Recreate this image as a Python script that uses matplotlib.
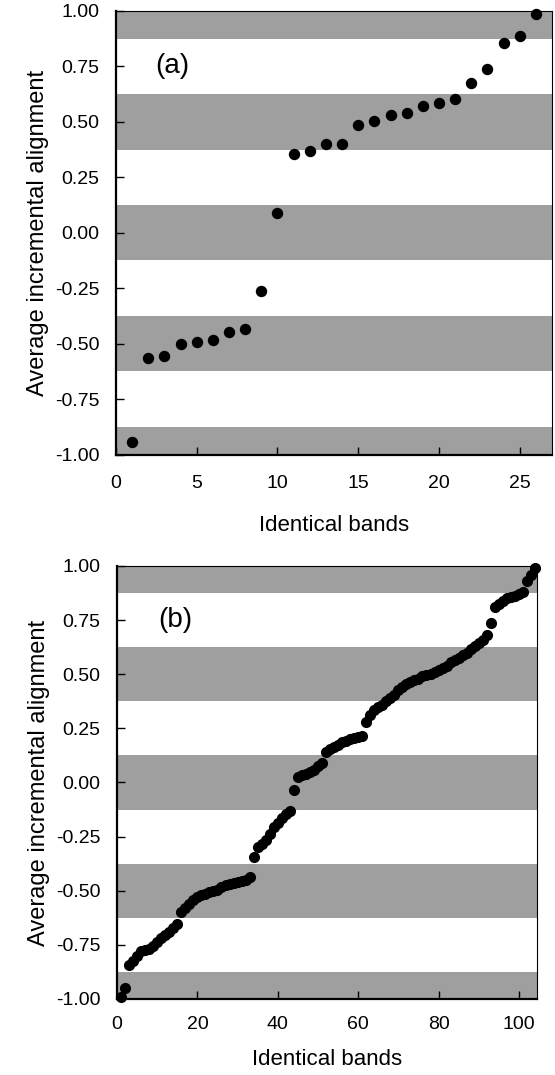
import matplotlib
matplotlib.use('Agg')
import matplotlib.pyplot as plt
import numpy as np

plt.rcParams['font.family'] = ['Liberation Sans', 'DejaVu Sans']
plt.rcParams['axes.unicode_minus'] = False

# panel (a): 26 identical bands
bands_a = np.arange(1, 27)
align_a = [-0.945, -0.563, -0.556, -0.503, -0.493, -0.484, -0.448, -0.433, -0.263, 0.087,
           0.354, 0.367, 0.400, 0.398, 0.487, 0.502, 0.530, 0.540, 0.570, 0.583,
           0.601, 0.674, 0.738, 0.854, 0.887, 0.986]

# panel (b): 104 identical bands
bands_b = np.arange(1, 105)
align_b = [-0.99, -0.95, -0.845, -0.825, -0.80, -0.78, -0.775, -0.77, -0.755, -0.735,
           -0.72, -0.705, -0.69, -0.67, -0.655, -0.60, -0.58, -0.56, -0.545, -0.53,
           -0.52, -0.515, -0.505, -0.50, -0.495, -0.485, -0.475, -0.47, -0.465, -0.46,
           -0.455, -0.45, -0.435, -0.345, -0.30, -0.285, -0.265, -0.24, -0.205, -0.185,
           -0.165, -0.145, -0.13, -0.035, 0.025, 0.035, 0.04, 0.05, 0.06, 0.075,
           0.09, 0.14, 0.155, 0.165, 0.175, 0.185, 0.19, 0.20, 0.205, 0.21,
           0.215, 0.28, 0.31, 0.335, 0.35, 0.36, 0.375, 0.39, 0.405, 0.425,
           0.44, 0.455, 0.465, 0.475, 0.48, 0.49, 0.495, 0.50, 0.51, 0.52,
           0.53, 0.54, 0.555, 0.565, 0.575, 0.59, 0.60, 0.615, 0.63, 0.645,
           0.66, 0.68, 0.735, 0.81, 0.825, 0.84, 0.85, 0.855, 0.86, 0.87,
           0.88, 0.93, 0.96, 0.99]

y_ticks = [1.0, 0.75, 0.5, 0.25, 0.0, -0.25, -0.5, -0.75, -1.0]
band_centres = [1.0, 0.5, 0.0, -0.5, -1.0]

fig = plt.figure(figsize=(5.55, 10.75), dpi=100)
ax_a = fig.add_axes([0.209, 0.5772, 0.7856, 0.4126])
ax_b = fig.add_axes([0.2108, 0.0707, 0.7568, 0.4028])


def draw_panel(ax, x, y, xmax, xticks, tag, tag_x, msize, xtpad, xpad):
    # grey bands around the integer/half alignment levels
    for c in band_centres:
        ax.axhspan(c - 0.125, c + 0.125, color='#9f9f9f', lw=0, zorder=0)
    ax.plot(x, y, 'o', color='black', markersize=msize, zorder=3, clip_on=False)
    ax.set_xlim(0, xmax)
    ax.set_ylim(-1, 1)
    ax.set_yticks(y_ticks)
    ax.set_yticklabels(['%.2f' % v for v in y_ticks])
    ax.set_xticks(xticks)
    ax.tick_params(direction='in', length=6, width=1, labelsize=14)
    ax.tick_params(axis='x', pad=xtpad)
    ax.tick_params(axis='y', pad=12)
    for side in ['left', 'bottom']:
        ax.spines[side].set_linewidth(1.6)
    for side in ['top', 'right']:
        ax.spines[side].set_linewidth(0.8)
    ax.set_xlabel('Identical bands', fontsize=16, labelpad=xpad)
    ax.set_ylabel('Average incremental alignment', fontsize=17, labelpad=4)
    ax.text(tag_x, 0.75, tag, fontsize=20, ha='center', va='center')


draw_panel(ax_a, bands_a, align_a, 27, [0, 5, 10, 15, 20, 25], '(a)', 3.5, 7.2, 15, 16)
draw_panel(ax_b, bands_b, align_b, 104.5, [0, 20, 40, 60, 80, 100], '(b)', 14.6, 7.0, 12, 12)

fig.savefig('out.png', dpi=100)
